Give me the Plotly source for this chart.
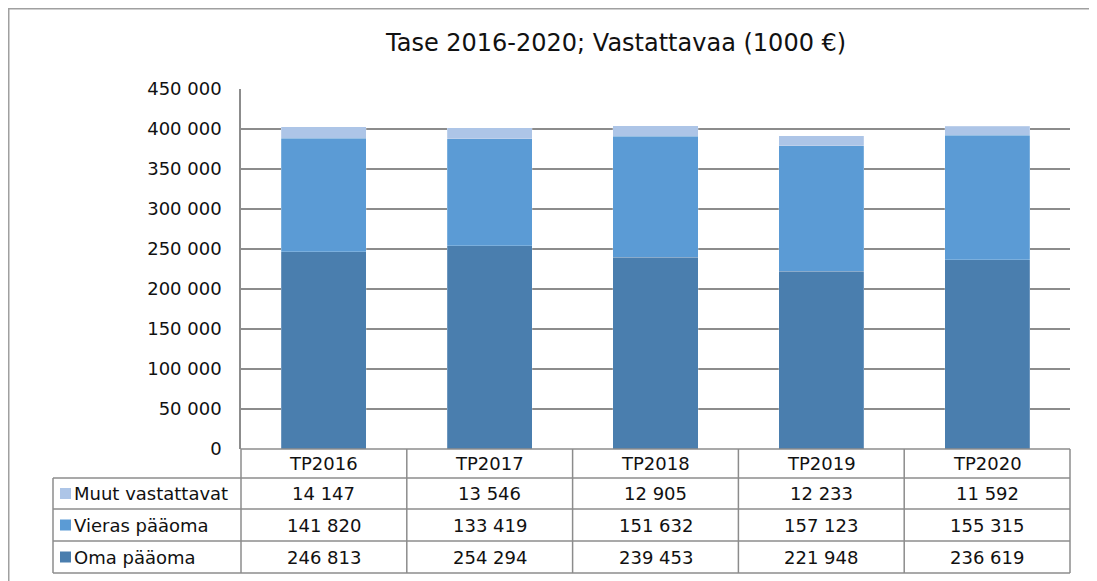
import plotly.graph_objects as go

categories = ["TP2016", "TP2017", "TP2018", "TP2019", "TP2020"]
series_names = ["Oma pääoma", "Vieras pääoma", "Muut vastattavat"]
oma = [246813, 254294, 239453, 221948, 236619]
vieras = [141820, 133419, 151632, 157123, 155315]
muut = [14147, 13546, 12905, 12233, 11592]
colors = ["#4A7EAE", "#5B9BD5", "#ADC5E7"]
title_text = "Tase 2016-2020; Vastattavaa (1000 €)"

OFF = 8  # page body margin
W, H = 1097 - OFF, 581 - OFF
L, R, T, B = 241, 1070, 89, 449
FONT = "DejaVu Sans"
TXT = "#111111"

def px(x):
    return (x - L) / (R - L)

def py(y):
    return (B - y) / (B - T)

fig = go.Figure()
for name, vals, col in zip(series_names, [oma, vieras, muut], colors):
    fig.add_trace(go.Bar(x=categories, y=vals, name=name, marker_color=col,
                         marker_line=dict(color="rgba(255,255,255,0.4)", width=0.5)))

shapes = []
grey = "#8C8C8C"
# outer frame
shapes.append(dict(type="rect", xref="paper", yref="paper", x0=px(8.75), y0=py(8.75), x1=px(1200), y1=py(700),
                   line=dict(color="#A0A0A0", width=1.5), layer="below"))
# table horizontal lines
shapes.append(dict(type="line", xref="paper", yref="paper", x0=px(L), x1=px(R), y0=py(449), y1=py(449),
                   line=dict(color=grey, width=1.5)))
for yy in [478, 509, 541, 573]:
    shapes.append(dict(type="line", xref="paper", yref="paper", x0=px(53), x1=px(R), y0=py(yy), y1=py(yy),
                       line=dict(color=grey, width=1.5)))
ncat = len(categories)
cw = (R - L) / ncat
for i in range(ncat + 1):
    xx = L + i * cw
    shapes.append(dict(type="line", xref="paper", yref="paper", x0=px(xx), x1=px(xx), y0=py(449), y1=py(573),
                       line=dict(color=grey, width=1.5)))
shapes.append(dict(type="line", xref="paper", yref="paper", x0=px(53), x1=px(53), y0=py(478), y1=py(573),
                   line=dict(color=grey, width=1.5)))

annotations = []
def fmt(v):
    return f"{v:,}".replace(",", " ")

def ann(text, x, y, size=18, xanchor="center"):
    return dict(text=text, x=x, y=y, xref="paper", yref="paper", xanchor=xanchor, yanchor="middle",
                showarrow=False, font=dict(size=size, color=TXT, family=FONT))

for i, c in enumerate(categories):
    annotations.append(ann(c, px(L + (i + 0.5) * cw), py(463.5)))
rows = [(series_names[2], muut, colors[2], 493.5), (series_names[1], vieras, colors[1], 525),
        (series_names[0], oma, colors[0], 557)]
for name, vals, col, yc in rows:
    shapes.append(dict(type="rect", xref="paper", yref="paper", x0=px(60), x1=px(71), y0=py(yc - 5.5), y1=py(yc + 5.5),
                       fillcolor=col, line=dict(width=0)))
    annotations.append(ann(name, px(72), py(yc), xanchor="left"))
    for i, v in enumerate(vals):
        annotations.append(ann(fmt(v), px(L + (i + 0.5) * cw), py(yc)))

annotations.append(ann(title_text, px(615), py(43), size=24))

fig.update_layout(
    width=W, height=H,
    margin=dict(l=L - OFF, r=1097 - R, t=T - OFF, b=581 - B, pad=0),
    barmode="stack", bargap=0.487,
    plot_bgcolor="white", paper_bgcolor="white",
    showlegend=False,
    separators=", ",
    font=dict(family=FONT, size=18, color=TXT),
    xaxis=dict(showticklabels=False, showgrid=False, showline=False, zeroline=False, range=[-0.5, 4.5]),
    yaxis=dict(range=[0, 450000], dtick=50000, tickformat=",d", showgrid=True, gridcolor=grey, gridwidth=1.5,
               showline=True, linecolor=grey, linewidth=1.5, zeroline=False, ticks="", ticklabelstandoff=14,
               tickfont=dict(size=18, family=FONT, color=TXT)),
    shapes=shapes, annotations=annotations,
)
fig.write_html("out.html")
